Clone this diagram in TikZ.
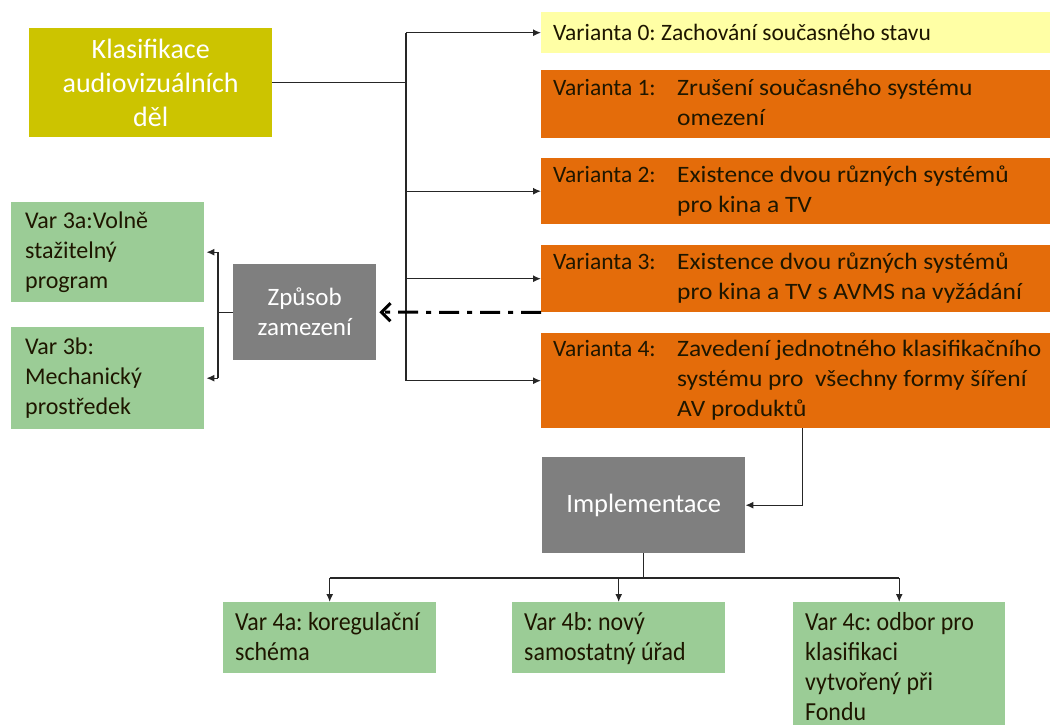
\documentclass[tikz,border=0pt]{standalone}
\usepackage{fontspec}
\usepackage{graphicx}
\setmainfont{Carlito}
\frenchspacing
\usetikzlibrary{arrows.meta}
\definecolor{orng}{RGB}{228,108,10}
\definecolor{grn}{RGB}{155,204,150}
\definecolor{olv}{RGB}{204,196,0}
\definecolor{ylw}{RGB}{255,255,165}
\definecolor{gry}{RGB}{127,127,127}
\definecolor{txtc}{RGB}{30,22,0}
\newcommand\dsc[1]{\scalebox{1.085}[1]{#1}}
\newcommand\cnd[1]{\scalebox{0.92}[1]{#1}}
\tikzset{
  box/.style={draw=none, inner sep=0pt, anchor=north west},
  txt/.style={inner sep=0pt, align=left, anchor=west, text=txtc, font=\fontsize{23.5}{30}\selectfont},
  gtxt/.style={inner sep=0pt, align=left, text=txtc, font=\fontsize{24}{30}\selectfont},
  btxt/.style={inner sep=0pt, align=left, text=txtc, font=\fontsize{26}{30}\selectfont},
  wtxt/.style={inner sep=0pt, align=center, text=white},
  ln/.style={line width=1.3pt, draw=black!85},
  arr/.style={ln, -{Latex[length=8pt,width=7pt]}},
}
\begin{document}
\begin{tikzpicture}[x=1pt, y=-1pt]
\useasboundingbox (0,0) rectangle (1050,725);
% boxes
\node[box, fill=olv, minimum width=243pt, minimum height=109pt] (kl) at (29,28) {};
\node[wtxt, font=\fontsize{28}{34}\selectfont] (klt) at (kl.center) {Klasifikace\\audiovizuálních\\děl};
\node[box, fill=ylw, minimum width=509pt, minimum height=41pt] (v0) at (541,12) {};
\node[box, fill=orng, minimum width=509pt, minimum height=68pt] (v1) at (541,70) {};
\node[box, fill=orng, minimum width=509pt, minimum height=66pt] (v2) at (541,158) {};
\node[box, fill=orng, minimum width=509pt, minimum height=67pt] (v3) at (541,245) {};
\node[box, fill=orng, minimum width=509pt, minimum height=95pt] (v4) at (541,333) {};
\node[txt] (v0t) at ([xshift=12pt]v0.west) {Varianta 0: Zachování současného stavu};
\node[txt] (v1t) at ([xshift=12pt]v1.west) {\begin{tabular}{@{}p{124pt}@{}l@{}}Varianta 1: & \dsc{Zrušení současného systému}\\ & \dsc{omezení}\end{tabular}};
\node[txt] (v2t) at ([xshift=12pt]v2.west) {\begin{tabular}{@{}p{124pt}@{}l@{}}Varianta 2: & \dsc{Existence dvou různých systémů}\\ & \dsc{pro kina a TV}\end{tabular}};
\node[txt] (v3t) at ([xshift=12pt]v3.west) {\begin{tabular}{@{}p{124pt}@{}l@{}}Varianta 3: & \dsc{Existence dvou různých systémů}\\ & \dsc{pro kina a TV s AVMS na vyžádání}\end{tabular}};
\node[txt] (v4t) at ([xshift=12pt]v4.west) {\begin{tabular}{@{}p{124pt}@{}l@{}}Varianta 4: & \dsc{Zavedení jednotného klasifikačního}\\ & \dsc{systému pro~ všechny formy šíření}\\ & \dsc{AV produktů}\end{tabular}};
\node[box, fill=gry, minimum width=143pt, minimum height=96pt] (zp) at (233,264) {};
\node[wtxt, font=\fontsize{25}{30}\selectfont] (zpt) at (zp.center) {Způsob\\zamezení};
\node[box, fill=grn, minimum width=193pt, minimum height=100pt] (g3a) at (11,202) {};
\node[box, fill=grn, minimum width=193pt, minimum height=102pt] (g3b) at (11,327) {};
\node[gtxt, anchor=west] (g3at) at ([xshift=14pt]g3a.west) {Var 3a:Volně\\stažitelný\\program};
\node[gtxt, anchor=west] (g3bt) at ([xshift=14pt]g3b.west) {Var 3b:\\Mechanický\\prostředek};
\node[box, fill=gry, minimum width=203pt, minimum height=96pt] (impl) at (542,457) {};
\node[wtxt, font=\fontsize{26.5}{30}\selectfont] (implt) at (impl.center) {Implementace};
\node[box, fill=grn, minimum width=213pt, minimum height=71pt] (g4a) at (223,602) {};
\node[box, fill=grn, minimum width=213pt, minimum height=71pt] (g4b) at (512,602) {};
\node[box, fill=grn, minimum width=212pt, minimum height=135pt] (g4c) at (793,602) {};
\node[btxt, anchor=north west] (g4at) at ([xshift=12pt,yshift=-10pt]g4a.north west) {\cnd{Var 4a: koregulační}\\\cnd{schéma}};
\node[btxt, anchor=north west] (g4bt) at ([xshift=12pt,yshift=-10pt]g4b.north west) {\cnd{Var 4b: nový}\\\cnd{samostatný úřad}};
\node[btxt, anchor=north west] (g4ct) at ([xshift=12pt,yshift=-10pt]g4c.north west) {\cnd{Var 4c: odbor pro}\\\cnd{klasifikaci}\\\cnd{vytvořený při}\\\cnd{Fondu}};
% connectors
\coordinate (tr) at (406,0);
\draw[ln] (kl.east) -- (kl.east -| tr);
\draw[ln] (tr |- v0.west) -- (tr |- v4.west);
\draw[arr] (tr |- v0.west) -- (v0.west);
\draw[arr] (tr |- v2.west) -- (v2.west);
\draw[arr] (tr |- v3.west) -- (v3.west);
\draw[arr] (tr |- v4.west) -- (v4.west);
\draw[line width=3pt, dash pattern=on 20pt off 8pt on 5pt off 8pt, -{Straight Barb[length=9pt,width=18pt,line width=3pt]}] (v3.south west) -- ([xshift=3pt]zp.east);
\coordinate (bk) at (218,0);
\draw[ln] (zp.west) -- (zp.west -| bk);
\draw[ln] (bk |- g3a.east) -- (bk |- g3b.east);
\draw[arr] (bk |- g3a.east) -- ([xshift=2pt]g3a.east);
\draw[arr] (bk |- g3b.east) -- ([xshift=2pt]g3b.east);
\coordinate (v4d) at ([xshift=7pt]v4.south);
\draw[arr] (v4d) |- (impl.east);
\coordinate (hb) at (0,578);
\draw[ln] (impl.south) -- (impl.south |- hb);
\draw[ln] (g4a.north |- hb) -- (g4c.north |- hb);
\draw[arr] (g4a.north |- hb) -- (g4a.north);
\draw[arr] (g4b.north |- hb) -- (g4b.north);
\draw[arr] (g4c.north |- hb) -- (g4c.north);
\end{tikzpicture}
\end{document}
